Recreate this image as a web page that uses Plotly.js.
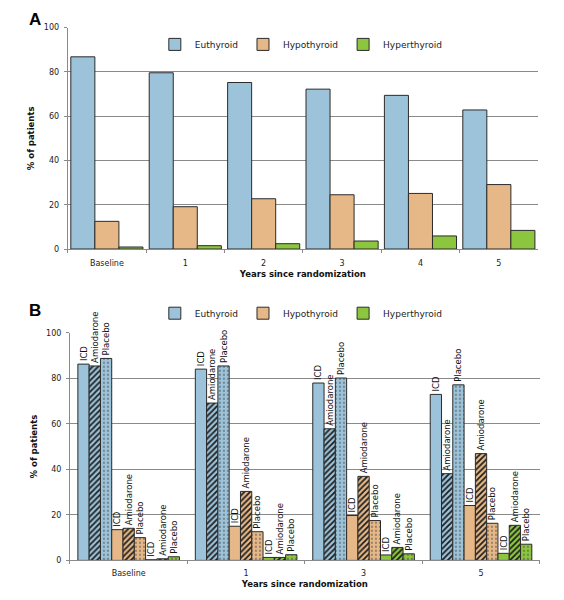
<!DOCTYPE html>
<html>
<head>
<meta charset="utf-8">
<script src="https://cdn.plot.ly/plotly-3.0.1.min.js"></script>
<style>html,body{margin:0;padding:0;background:#fff;}#chart{width:564px;height:600px;}</style>
</head>
<body>
<div id="chart"></div>
<script>
// Panel A data
var catsA = ['Baseline', '1', '2', '3', '4', '5'];
var euA = [86.8, 79.6, 75.2, 72.2, 69.4, 62.8];
var hypoA = [12.5, 19.1, 22.7, 24.5, 25.1, 29.1];
var hyperA = [0.9, 1.5, 2.4, 3.6, 5.9, 8.4];

// Panel B data
var catsB = ['Baseline', '1', '3', '5'];
var euICD = [86.2, 84.0, 77.9, 72.9];
var euAmio = [85.4, 69.1, 57.8, 38.1];
var euPlac = [88.7, 85.4, 80.1, 77.1];
var hypoICD = [13.5, 15.0, 19.7, 24.1];
var hypoAmio = [14.1, 30.3, 36.9, 46.9];
var hypoPlac = [10.0, 12.6, 17.5, 16.3];
var hyperICD = [0.3, 1.3, 2.4, 3.1];
var hyperAmio = [0.7, 1.3, 5.7, 15.4];
var hyperPlac = [1.6, 2.5, 2.9, 7.1];

var statusNames = ['Euthyroid', 'Hypothyroid', 'Hyperthyroid'];
var armNames = ['ICD', 'Amiodarone', 'Placebo'];

var colors = ['#9cc3da', '#e6b887', '#8cc63f'];
var edge = {color: '#2b2b2b', width: 1};
var FONT = 'DejaVu Sans, Verdana, sans-serif';

var traces = [];
var seriesA = [euA, hypoA, hyperA];
seriesA.forEach(function (vals, i) {
  traces.push({
    type: 'bar', x: catsA, y: vals, name: statusNames[i],
    xaxis: 'x', yaxis: 'y', legend: 'legend',
    marker: {color: colors[i], line: edge}
  });
});

var seriesB = [
  [euICD, euAmio, euPlac],
  [hypoICD, hypoAmio, hypoPlac],
  [hyperICD, hyperAmio, hyperPlac]
];
var gapB = 0.135;
var nB = 9;
var wB = (1 - gapB) / nB;
seriesB.forEach(function (group, i) {
  group.forEach(function (vals, j) {
    var k = i * 3 + j;
    var pattern;
    if (j === 1) pattern = {shape: '/', fgcolor: '#1e1e1e', bgcolor: colors[i], size: 4, solidity: 0.45};
    else if (j === 2) pattern = {shape: '.', fgcolor: '#4a4a4a', bgcolor: colors[i], size: 4, solidity: 0.14};
    else pattern = {shape: ''};
    traces.push({
      type: 'bar', x: catsB, y: vals,
      name: j === 0 ? statusNames[i] : statusNames[i] + ' ' + armNames[j],
      showlegend: j === 0,
      xaxis: 'x2', yaxis: 'y2', legend: 'legend2',
      width: wB, offset: -(1 - gapB) / 2 + k * wB,
      text: vals.map(function () { return armNames[j]; }),
      textposition: 'outside', textangle: -90, constraintext: 'none', cliponaxis: false,
      textfont: {family: FONT, size: 8.5, color: '#111'},
      hoverinfo: 'y+name',
      marker: {color: colors[i], line: edge, pattern: pattern}
    });
  });
});

var tickFont = {family: FONT, size: 8, color: '#222'};
var titleFont = {family: FONT, size: 8.5, color: '#111', weight: 'bold'};
var gridC = '#8a8a8a';

function xax(domain, anchor, standoff) {
  return {
    domain: domain, anchor: anchor, type: 'category',
    showline: true, linecolor: gridC, linewidth: 1,
    ticks: 'outside', tickson: 'boundaries', ticklen: 3, tickcolor: gridC,
    tickfont: tickFont, showgrid: false, ticklabelstandoff: standoff,
    title: {text: 'Years since randomization', font: titleFont, standoff: 4}
  };
}
function yax(domain, anchor) {
  return {
    domain: domain, anchor: anchor, range: [0, 100], tickvals: [0, 20, 40, 60, 80, 100],
    showline: true, linecolor: gridC, linewidth: 1,
    ticks: 'outside', ticklen: 3, tickcolor: gridC, tickfont: tickFont,
    ticklabelstandoff: 3,
    showgrid: true, gridcolor: gridC, gridwidth: 1, zeroline: false,
    title: {text: '% of patients', font: titleFont, standoff: 7}
  };
}

var legendBase = {
  orientation: 'h', xanchor: 'left', yanchor: 'middle',
  font: {family: FONT, size: 9, color: '#222'},
  bgcolor: 'rgba(0,0,0,0)', itemwidth: 30, itemclick: false
};

var layout = {
  width: 564, height: 600,
  margin: {l: 0, r: 0, t: 0, b: 0},
  paper_bgcolor: '#fff', plot_bgcolor: '#fff',
  barmode: 'group',
  bargap: 0.08, bargroupgap: 0,
  xaxis: xax([0.120, 0.954], 'y', 6),
  yaxis: yax([0.585, 0.954], 'x'),
  xaxis2: xax([0.124, 0.957], 'y2', 5),
  yaxis2: yax([0.066, 0.4455], 'x2'),
  legend: Object.assign({}, legendBase, {x: 0.2745, y: 0.926}),
  legend2: Object.assign({}, legendBase, {x: 0.2745, y: 0.478}),
  annotations: [
    {text: '<b>A</b>', xref: 'paper', yref: 'paper', x: 0.047, y: 1 - 20 / 600, showarrow: false,
      font: {family: 'Liberation Sans, Arial, sans-serif', size: 17, color: '#000'}, xanchor: 'left', yanchor: 'middle'},
    {text: '<b>B</b>', xref: 'paper', yref: 'paper', x: 0.047, y: 1 - 310 / 600, showarrow: false,
      font: {family: 'Liberation Sans, Arial, sans-serif', size: 17, color: '#000'}, xanchor: 'left', yanchor: 'middle'}
  ]
};

Plotly.newPlot('chart', traces, layout, {staticPlot: true, displayModeBar: false});
</script>
</body>
</html>
